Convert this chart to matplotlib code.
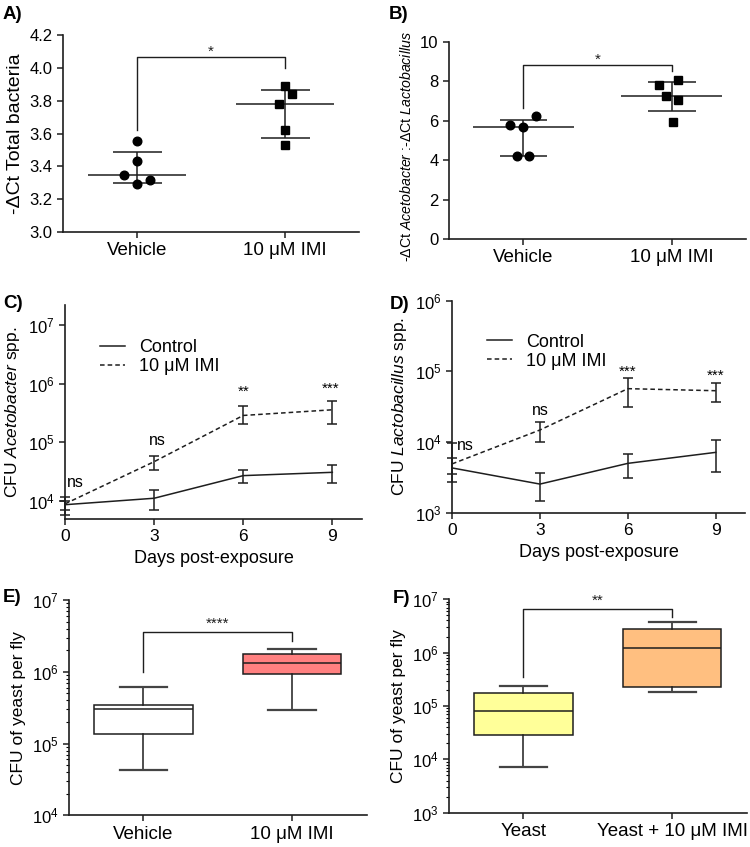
import numpy as np
import matplotlib
matplotlib.use("Agg")
import matplotlib.pyplot as plt
from matplotlib.lines import Line2D
from matplotlib.ticker import LogLocator, LogFormatterMathtext, NullLocator, NullFormatter

# ── Fonts ─────────────────────────────────────────────────────────────────────
plt.rcParams["font.family"] = ["Liberation Sans", "DejaVu Sans"]
plt.rcParams["mathtext.fontset"] = "custom"
plt.rcParams["mathtext.rm"] = "Liberation Sans"
plt.rcParams["mathtext.it"] = "Liberation Sans:italic"
plt.rcParams["mathtext.bf"] = "Liberation Sans:bold"

INK = "#1e1e1e"
TICK_FS = 12
CAT_FS = 13.5

# ── Data: panels A / B (dot plots, median + IQR) ──────────────────────────────
GROUPS_AB = ["Vehicle", "10 μM IMI"]

A_VEH = [3.555, 3.43, 3.345, 3.29, 3.315]
A_VEH_JIT = [0.0, 0.0, -0.09, 0.0, 0.09]
A_IMI = [3.89, 3.84, 3.78, 3.62, 3.53]
A_IMI_JIT = [0.0, 0.045, -0.045, 0.0, 0.0]
A_MED = [3.345, 3.78]
A_Q1 = [3.30, 3.575]
A_Q3 = [3.49, 3.865]

B_VEH = [5.80, 5.67, 6.23, 4.21, 4.21]
B_VEH_JIT = [-0.09, 0.0, 0.088, -0.045, 0.04]
B_IMI = [7.80, 8.09, 7.28, 7.07, 5.92]
B_IMI_JIT = [-0.085, 0.045, -0.04, 0.045, 0.005]
B_MED = [5.67, 7.28]
B_Q1 = [4.21, 6.51]
B_Q3 = [6.04, 7.95]

# ── Data: panels C / D (time courses, mean with error) ────────────────────────
DAYS = [0, 3, 6, 9]
SERIES = ["Control", "10 μM IMI"]

C_CTRL = [8500, 10960, 26700, 30400]
C_CTRL_LO = [7000, 6840, 20300, 20300]
C_CTRL_HI = [10000, 15100, 33300, 41100]
C_IMI = [8800, 46200, 285000, 356000]
C_IMI_LO = [5600, 33200, 200000, 200000]
C_IMI_HI = [11500, 58500, 416000, 513000]
C_SIG = ["ns", "ns", "**", "***"]

D_CTRL = [4300, 2540, 4990, 7140]
D_CTRL_LO = [2720, 1480, 3125, 3760]
D_CTRL_HI = [5950, 3600, 6760, 10600]
D_IMI = [4900, 14800, 56900, 53200]
D_IMI_LO = [3520, 9900, 30900, 36800]
D_IMI_HI = [9700, 19400, 81500, 67500]
D_SIG = ["ns", "ns", "***", "***"]

# ── Data: panels E / F (box plots) ────────────────────────────────────────────
E_GROUPS = ["Vehicle", "10 μM IMI"]
E_WHISLO = [42500, 289000]
E_Q1 = [134000, 930000]
E_MED = [305000, 1320000]
E_Q3 = [350000, 1750000]
E_WHISHI = [604000, 2090000]
E_COLORS = ["white", "#ff8080"]

F_GROUPS = ["Yeast", "Yeast + 10 μM IMI"]
F_WHISLO = [7080, 183000]
F_Q1 = [29000, 230000]
F_MED = [81700, 1240000]
F_Q3 = [178000, 2740000]
F_WHISHI = [237000, 3760000]
F_COLORS = ["#ffff99", "#ffbf80"]


# ── Helpers ───────────────────────────────────────────────────────────────────
def style_axes(ax):
    for s in ("top", "right"):
        ax.spines[s].set_visible(False)
    for s in ("left", "bottom"):
        ax.spines[s].set_linewidth(1.2)
        ax.spines[s].set_color(INK)
    ax.tick_params(direction="out", length=4, width=1.1, color=INK)
    ax.tick_params(axis="y", labelsize=TICK_FS)
    ax.tick_params(which="minor", length=2.5, width=0.8)


def log_axis(ax, lo, hi, minor=False):
    ax.set_yscale("log")
    ax.set_ylim(lo, hi)
    ax.yaxis.set_major_locator(LogLocator(base=10))
    ax.yaxis.set_major_formatter(LogFormatterMathtext())
    if minor:
        ax.yaxis.set_minor_locator(LogLocator(base=10, subs=np.arange(2, 10)))
    else:
        ax.yaxis.set_minor_locator(NullLocator())
    ax.yaxis.set_minor_formatter(NullFormatter())


def bracket(ax, y, y_left, y_right, label, label_y, fs=11):
    ax.plot([0, 0, 1, 1], [y_left, y, y, y_right], color=INK, lw=1.0)
    ax.text(0.5, label_y, label, ha="center", va="center", fontsize=fs, color=INK)


def dot_panel(ax, groups, jits, markers, sizes, med, q1, q3, medw, capw):
    for i, (vals, jit, mk, ms) in enumerate(zip(groups, jits, markers, sizes)):
        ax.plot(i + np.array(jit), vals, ls="none", marker=mk, ms=ms,
                color="black", zorder=3)
        ax.hlines(med[i], i - medw, i + medw, color=INK, lw=1.1)
        ax.vlines(i, q1[i], q3[i], color=INK, lw=1.1)
        ax.hlines([q1[i], q3[i]], i - capw, i + capw, color=INK, lw=1.1)
    ax.set_xlim(-0.5, 1.5)
    ax.set_xticks([0, 1])
    ax.set_xticklabels(GROUPS_AB, fontsize=CAT_FS)


def time_panel(ax, ctrl, ctrl_lo, ctrl_hi, imi, imi_lo, imi_hi, leg_anchor):
    x = np.array(DAYS)
    handles = []
    for vals, lo, hi, ls, lab in ((ctrl, ctrl_lo, ctrl_hi, "-", SERIES[0]),
                                  (imi, imi_lo, imi_hi, (0, (3, 2)), SERIES[1])):
        vals = np.array(vals)
        err = [vals - np.array(lo), np.array(hi) - vals]
        eb = ax.errorbar(x, vals, yerr=err, color=INK, lw=1.1, ls=ls,
                         elinewidth=1.1, capsize=3.6, capthick=1.1)
        for art in eb.lines[1] + eb.lines[2]:
            art.set_clip_on(False)
        eb.lines[0].set_clip_on(False)
        handles.append(Line2D([], [], color=INK, lw=1.1, ls=ls, label=lab))
    ax.set_xlim(0, 10)
    ax.set_xticks(DAYS)
    ax.set_xlabel("Days post-exposure", fontsize=13)
    ax.tick_params(axis="x", labelsize=12.5)
    ax.legend(handles=handles, loc="upper left", bbox_to_anchor=leg_anchor,
              frameon=False, fontsize=13, handlelength=1.4, labelspacing=0.12,
              handletextpad=0.75, borderpad=0, borderaxespad=0)


def box_panel(ax, labels, whislo, q1, med, q3, whishi, colors):
    stats = []
    for i in range(len(labels)):
        stats.append(dict(whislo=whislo[i], q1=q1[i], med=med[i], q3=q3[i],
                          whishi=whishi[i], label=labels[i]))
    bp = ax.bxp(stats, positions=[0, 1], widths=0.66, capwidths=0.32,
                showfliers=False, patch_artist=True,
                boxprops=dict(edgecolor=INK, linewidth=1.1),
                medianprops=dict(color=INK, linewidth=1.1),
                whiskerprops=dict(color=INK, linewidth=1.1),
                capprops=dict(color="#444444", linewidth=1.6))
    for patch, c in zip(bp["boxes"], colors):
        patch.set_facecolor(c)
    ax.set_xlim(-0.5, 1.5)
    ax.tick_params(axis="x", labelsize=CAT_FS)
    ax.set_ylabel("CFU of yeast per fly", fontsize=12.5)


# ── Figure ────────────────────────────────────────────────────────────────────
fig = plt.figure(figsize=(7.5, 8.47), dpi=100, facecolor="white")

axA = fig.add_axes([0.084, 0.726, 0.395, 0.2326])
axB = fig.add_axes([0.5987, 0.7178, 0.396, 0.2326])
axC = fig.add_axes([0.0867, 0.3876, 0.396, 0.2523])
axD = fig.add_axes([0.6027, 0.3947, 0.3907, 0.2503])
axE = fig.add_axes([0.092, 0.0374, 0.397, 0.2542])
axF = fig.add_axes([0.5987, 0.0405, 0.397, 0.252])

# A
dot_panel(axA, [A_VEH, A_IMI], [A_VEH_JIT, A_IMI_JIT], ["o", "s"], [6.2, 5.8],
          A_MED, A_Q1, A_Q3, 0.33, 0.165)
axA.set_ylim(3.0, 4.2)
axA.set_yticks(np.arange(3.0, 4.21, 0.2))
axA.set_yticklabels([f"{v:.1f}" for v in np.arange(3.0, 4.21, 0.2)])
axA.set_ylabel("-ΔCt Total bacteria", fontsize=14)
bracket(axA, 4.065, 3.62, 4.0, "*", 4.1)

# B
dot_panel(axB, [B_VEH, B_IMI], [B_VEH_JIT, B_IMI_JIT], ["o", "s"], [6.2, 5.8],
          B_MED, B_Q1, B_Q3, 0.34, 0.16)
axB.set_ylim(0, 10)
axB.set_yticks(range(0, 11, 2))
axB.set_ylabel(r"-ΔCt $\mathit{Acetobacter}$ :-ΔCt $\mathit{Lactobacillus}$",
               fontsize=10.2)
axB.yaxis.set_label_coords(-0.118, 0.47)
bracket(axB, 8.83, 6.67, 8.53, "*", 9.1)

# C
time_panel(axC, C_CTRL, C_CTRL_LO, C_CTRL_HI, C_IMI, C_IMI_LO, C_IMI_HI,
           (0.118, 0.84))
log_axis(axC, 4900, 2.2e7)
axC.set_ylabel(r"CFU $\mathit{Acetobacter}$ spp.", fontsize=12.5)
for d, s, y in zip([0.35, 3.1, 6.0, 8.95], C_SIG, [20600, 105000, 720000, 810000]):
    axC.text(d, y, s, ha="center", va="center", fontsize=11.5 if s == "ns" else 11)

# D
time_panel(axD, D_CTRL, D_CTRL_LO, D_CTRL_HI, D_IMI, D_IMI_LO, D_IMI_HI,
           (0.12, 0.845))
log_axis(axD, 1e3, 1e6)
axD.set_ylabel(r"CFU $\mathit{Lactobacillus}$ spp.", fontsize=12.5)
for d, s, y in zip([0.46, 3.0, 6.0, 9.0], D_SIG, [9000, 27700, 100000, 86000]):
    axD.text(d, y, s, ha="center", va="center", fontsize=11.5 if s == "ns" else 11)

# E
box_panel(axE, E_GROUPS, E_WHISLO, E_Q1, E_MED, E_Q3, E_WHISHI, E_COLORS)
log_axis(axE, 1e4, 1e7, minor=True)
bracket(axE, 3.57e6, 0.98e6, 2.7e6, "****", 4.7e6)

# F
box_panel(axF, F_GROUPS, F_WHISLO, F_Q1, F_MED, F_Q3, F_WHISHI, F_COLORS)
log_axis(axF, 1e3, 1e7, minor=True)
bracket(axF, 6.5e6, 3.55e5, 4.6e6, "**", 9.2e6)

for ax in (axA, axB, axC, axD, axE, axF):
    style_axes(ax)

# panel letters
for x, y, s in ((0.004, 0.983, "A)"), (0.518, 0.983, "B)"), (0.004, 0.642, "C)"),
                (0.52, 0.64, "D)"), (0.004, 0.295, "E)"), (0.524, 0.293, "F)")):
    fig.text(x, y, s, fontsize=13.5, fontweight="bold", ha="left", va="center")

fig.savefig("out.png", dpi=100, facecolor="white")
